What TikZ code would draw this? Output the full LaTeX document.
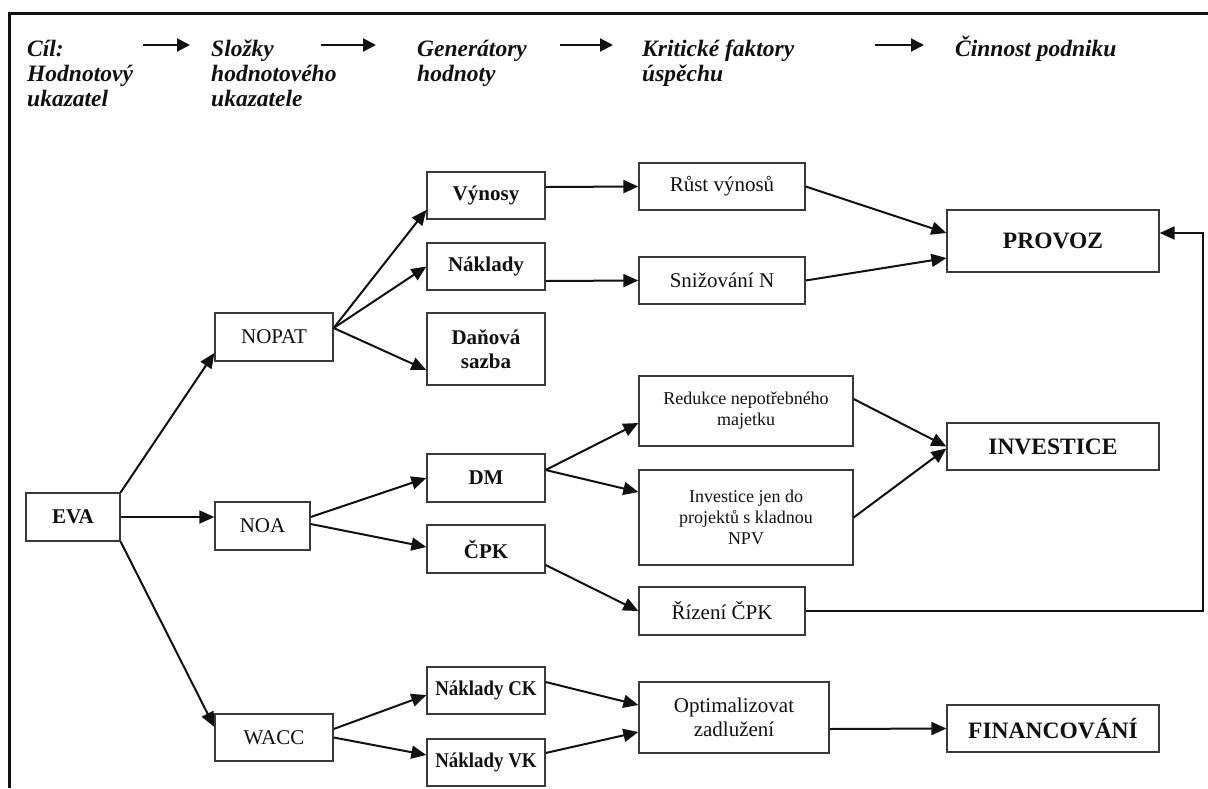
\documentclass[tikz,border=0pt]{standalone}
\usepackage{fontspec}
\setmainfont{Liberation Serif}
\usetikzlibrary{arrows.meta}
\definecolor{ink}{HTML}{111111}
\definecolor{edge}{HTML}{3A3A3A}
\newcommand\fsz[2]{\fontsize{#1}{#2}\selectfont}
\newcommand\narrow[1]{\scalebox{0.9}[1]{#1}}

\begin{document}
\begin{tikzpicture}[x=1pt,y=-1pt,
  box/.style={draw=edge, line width=1.3pt, inner sep=0pt, align=center, text=ink, font=\fsz{21}{24}},
  bbox/.style={box, font=\fsz{21}{24}\bfseries},
  small/.style={box, font=\fsz{18}{21}},
  big/.style={box, font=\fsz{23.5}{27}\bfseries},
  sz/.style 2 args={minimum width=#1pt, minimum height=#2pt},
  link/.style={draw=ink, line width=2pt, -{Triangle[length=15pt,width=13pt]}},
  head/.style={anchor=base west, align=left, inner sep=0pt, text=ink, font=\fsz{23.5}{25}\bfseries\itshape},
  harrow/.style={draw=ink, line width=2pt, -{Triangle[length=13pt,width=13pt]}},
]
\useasboundingbox[fill=white] (0,0) rectangle (1208,788);

% frame
\draw[ink, line width=3pt] (9,788) -- (9,13) -- (1208,13);

% column headings (a node's base is the baseline of its last line)
\node[head] (g1) at (27,106) {Cíl:\\Hodnotový\\ukazatel};
\node[head] (g2) at (211,106) {Složky\\hodnotového\\ukazatele};
\node[head] (g3) at (417,81) {Generátory\\hodnoty};
\node[head] (g4) at (642,81) {Kritické faktory\\úspěchu};
\node[head] (g5) at (955,56) {Činnost podniku};
\coordinate (a1) at (143,45); \coordinate (b1) at (190,45);
\coordinate (a2) at (321,45); \coordinate (b2) at (376,45);
\coordinate (a3) at (560,45); \coordinate (b3) at (613,45);
\coordinate (a4) at (875,45); \coordinate (b4) at (924,45);
\draw[harrow] (a1) -- (b1);
\draw[harrow] (a2) -- (b2);
\draw[harrow] (a3) -- (b3);
\draw[harrow] (a4) -- (b4);

% value indicator and its components
\node[bbox, sz={94}{48}] (eva) at (73,517) {EVA};
\node[box, sz={118}{48}] (nopat) at (274,337) {NOPAT};
\node[box, sz={95}{48}] (noa) at (262.5,526) {NOA};
\node[box, sz={118}{47}] (wacc) at (274,737.5) {WACC};

% value generators
\node[bbox, sz={118}{47}] (vyn) at (486,195.5) {Výnosy};
\node[bbox, sz={118}{47}] (nakl) at (486,266.5) {Náklady};
\node[bbox, sz={118}{72}] (dan) at (486,349) {Daňová\\sazba};
\node[bbox, sz={118}{48}] (dm) at (486,478) {DM};
\node[bbox, sz={118}{48}] (cpk) at (486,549) {ČPK};
\node[bbox, sz={118}{47}] (nck) at (486,690.5) {\narrow{Náklady CK}};
\node[bbox, sz={118}{47}] (nvk) at (486,762.5) {\narrow{Náklady VK}};

% critical success factors
\node[box, sz={166}{47}] (rust) at (722,186.5) {Růst výnosů};
\node[box, sz={166}{47}] (sniz) at (722,280.5) {Snižování N};
\node[small, sz={214}{70}] (red) at (746,411) {Redukce nepotřebného\\majetku};
\node[small, sz={214}{95}] (inv) at (746,517.5) {Investice jen do\\projektů s kladnou\\NPV};
\node[box, sz={166}{48}] (rcpk) at (722,611) {Řízení ČPK};
\node[box, sz={190}{71}] (opt) at (734,717.5) {Optimalizovat\\zadlužení};

% business activities
\node[big, sz={212}{62}] (provoz) at (1053,241) {PROVOZ};
\node[big, sz={212}{47}] (invest) at (1053,446.5) {INVESTICE};
\node[big, sz={212}{47}] (fin) at (1053,728.5) {FINANCOVÁNÍ};

% EVA branches
\draw[link] (eva.north east) -- ([yshift=-16pt]nopat.west);
\draw[link] (eva.east) -- ([yshift=9pt]noa.west);
\draw[link] (eva.south east) -- ([yshift=10.5pt]wacc.west);

% component branches
\draw[link] ([yshift=9pt]nopat.east) -- ([yshift=-14.5pt]vyn.west);
\draw[link] ([yshift=9pt]nopat.east) -- (nakl.west);
\draw[link] ([yshift=9pt]nopat.east) -- ([yshift=-21pt]dan.west);
\draw[link] ([yshift=9pt]noa.east) -- (dm.west);
\draw[link] ([yshift=2pt]noa.east) -- ([yshift=2pt]cpk.west);
\draw[link] ([yshift=8.5pt]wacc.east) -- ([yshift=-4.5pt]nck.west);
\draw[link] (wacc.east) -- ([yshift=7.5pt]nvk.west);

% generators to success factors
\draw[link] ([yshift=8.5pt]vyn.east) -- (rust.west);
\draw[link] ([yshift=-14.5pt]nakl.east) -- (sniz.west);
\draw[link] ([yshift=8pt]dm.east) -- ([yshift=-12pt]red.west);
\draw[link] ([yshift=8pt]dm.east) -- ([yshift=25.5pt]inv.west);
\draw[link] ([yshift=-16pt]cpk.east) -- (rcpk.west);
\draw[link] ([yshift=8.5pt]nck.east) -- ([yshift=12.5pt]opt.west);
\draw[link] ([yshift=9.5pt]nvk.east) -- ([yshift=-14.5pt]opt.west);

% success factors to activities
\draw[link] (rust.east) -- ([yshift=8pt]provoz.west);
\draw[link] (sniz.east) -- ([yshift=-17pt]provoz.west);
\draw[link] ([yshift=12pt]red.east) -- (invest.west);
\draw[link] (inv.east) -- ([yshift=-2pt]invest.west);
\draw[link] ([yshift=-11.5pt]opt.east) -- (fin.west);
\coordinate (turn) at (1203,233);
\draw[link] (rcpk.east) -| (turn) -- ([yshift=8pt]provoz.east);
\end{tikzpicture}
\end{document}
